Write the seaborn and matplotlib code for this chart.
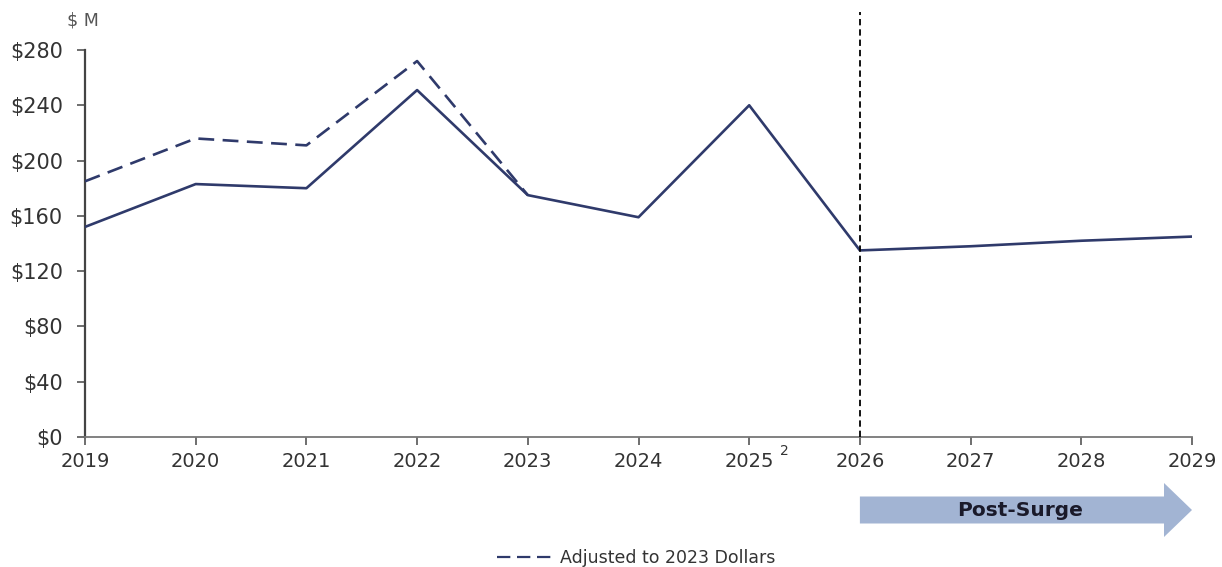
import matplotlib
matplotlib.use("Agg")
import matplotlib.pyplot as plt
import matplotlib.transforms as mtransforms
from matplotlib.patches import FancyArrow
from matplotlib.lines import Line2D
import seaborn as sns
import pandas as pd

years = [2019, 2020, 2021, 2022, 2023, 2024, 2025, 2026, 2027, 2028, 2029]
nominal = [152, 183, 180, 251, 175, 159, 240, 135, 138, 142, 145]
adj_years = [2019, 2020, 2021, 2022, 2023]
adjusted = [185, 216, 211, 272, 175]
year_labels = ["2019", "2020", "2021", "2022", "2023", "2024", "2025",
               "2026", "2027", "2028", "2029"]
y_ticks = [0, 40, 80, 120, 160, 200, 240, 280]
y_labels = ["$0", "$40", "$80", "$120", "$160", "$200", "$240", "$280"]

sns.set_theme(style="white")
plt.rcParams["font.family"] = ["DejaVu Sans"]

line_color = "#2f3a6b"
text_color = "#333333"

fig = plt.figure(figsize=(12.22, 5.67), dpi=100)
ax = fig.add_axes([85 / 1222, 1 - 437 / 567, (1192 - 85) / 1222, (437 - 50) / 567])

df_nom = pd.DataFrame({"year": years, "value": nominal})
df_adj = pd.DataFrame({"year": adj_years, "value": adjusted})

sns.lineplot(data=df_adj, x="year", y="value", ax=ax, color=line_color,
             linewidth=1.9, dashes=False, zorder=3)
ax.lines[-1].set_dashes((6, 3.2))
sns.lineplot(data=df_nom, x="year", y="value", ax=ax, color=line_color,
             linewidth=1.9, zorder=4)

ax.set_xlim(2019, 2029)
ax.set_ylim(0, 280)
ax.set_xticks(years)
ax.set_xticklabels(year_labels, fontsize=14, color=text_color)
ax.set_yticks(y_ticks)
ax.set_yticklabels(y_labels, fontsize=15, color=text_color)
ax.set_xlabel("")
ax.set_ylabel("")

for s in ["top", "right"]:
    ax.spines[s].set_visible(False)
ax.spines["left"].set_color("#444444")
ax.spines["bottom"].set_color("#777777")
ax.spines["left"].set_linewidth(1.6)
ax.spines["bottom"].set_linewidth(1.3)
ax.tick_params(axis="both", which="major", direction="out", length=6,
               width=1.2, color="#555555", bottom=True, left=True)
ax.tick_params(axis="x", pad=5)
ax.tick_params(axis="y", pad=10)
ax.grid(False)

# vertical divider at 2026
ax.axvline(2026, ymin=0, ymax=(437 - 12) / 387, color="black", linewidth=1.3,
           linestyle=(0, (3.5, 2.2)), clip_on=False, zorder=5)

trans = mtransforms.blended_transform_factory(ax.transData, ax.transAxes)

# superscript note on 2025
ax.text(2025.28, -0.036, "2", transform=trans,
        fontsize=10, color=text_color, ha="left", va="center")

# $ M unit label
fig.text(67 / 1222, 1 - 20 / 567, "$ M", fontsize=12.5, color="#555555", ha="left", va="center")

# Post-Surge arrow
yc = (437 - 510) / 387
arrow = FancyArrow(2026, yc, 3.0, 0, width=27 / 387, head_width=54 / 387,
                   head_length=28 / 110.7, length_includes_head=True,
                   transform=trans, clip_on=False, color="#a2b4d3", linewidth=0)
ax.add_patch(arrow)
ax.text(2027.45, yc, "Post-Surge", transform=trans, fontsize=14.5, fontweight="bold",
        color="#1a1a2a", ha="center", va="center")

# legend
handle = Line2D([], [], color=line_color, linewidth=1.6, dashes=(6, 3))
fig.legend([handle], ["Adjusted to 2023 Dollars"], loc="center",
           bbox_to_anchor=(636 / 1222, 1 - 558 / 567), frameon=False,
           fontsize=12.5, handlelength=3.2, handletextpad=0.4,
           labelcolor="#333333")

fig.savefig("out.png", dpi=100, facecolor="white")
